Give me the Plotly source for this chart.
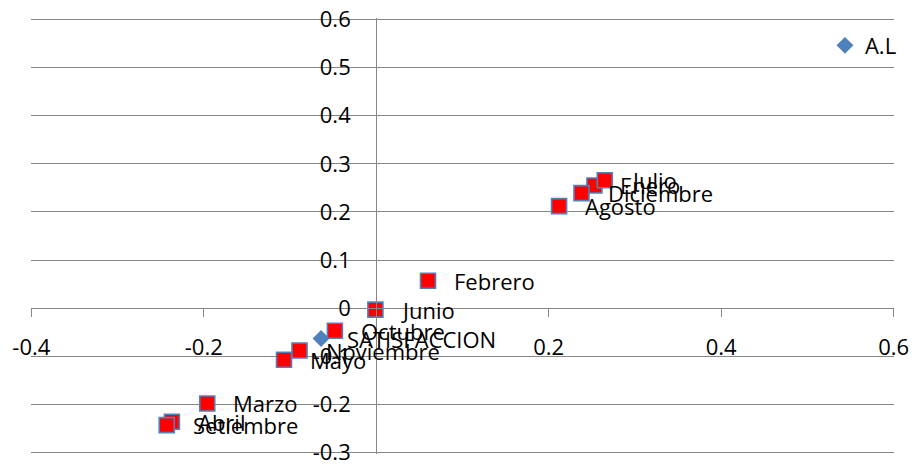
import plotly.graph_objects as go

# Data
months = ["Enero", "Febrero", "Marzo", "Abril", "Mayo", "Junio", "Julio",
          "Agosto", "Setiembre", "Octubre", "Noviembre", "Diciembre"]
month_x = [0.253, 0.060, -0.196, -0.237, -0.107, -0.001, 0.265,
           0.212, -0.243, -0.048, -0.089, 0.238]
month_y = [0.255, 0.057, -0.198, -0.236, -0.107, -0.003, 0.266,
           0.212, -0.243, -0.047, -0.088, 0.239]

sat_label = ["SATISFACCION"]
sat_x = [-0.064]
sat_y = [-0.063]

series_name = "A.L"

x_tickvals = [-0.4, -0.2, 0.2, 0.4, 0.6]
x_ticktext = ["-0.4", "-0.2", "0.2", "0.4", "0.6"]
y_tickvals = [-0.3, -0.2, -0.1, 0.0, 0.1, 0.2, 0.3, 0.4, 0.5, 0.6]
y_ticktext = ["-0.3", "-0.2", "-0.1", "0", "0.1", "0.2", "0.3", "0.4", "0.5", "0.6"]

FONT = "Open Sans"
FS = 22
GRAY = "#878787"
BLUE = "#4F81BD"

X_RANGE = [-0.4004, 0.6004]
Y_RANGE = [-0.303, 0.603]

fig = go.Figure()

fig.add_trace(go.Scatter(
    x=sat_x, y=sat_y, mode="markers", name=series_name,
    marker=dict(symbol="diamond", size=13, color=BLUE, line=dict(width=0)),
    showlegend=True,
))

fig.add_trace(go.Scatter(
    x=month_x, y=month_y, mode="markers", name="meses",
    marker=dict(symbol="square", size=15, color="#FF0000",
                line=dict(color=BLUE, width=1.6)),
    showlegend=False,
))

annotations = []
for lx, ly, lt in zip(sat_x + month_x, sat_y + month_y, sat_label + months):
    annotations.append(dict(
        x=lx, y=ly, xref="x", yref="y", text=lt, showarrow=False,
        xanchor="left", yanchor="middle", xshift=24, yshift=0,
        font=dict(family=FONT, size=FS, color="black"),
    ))

# paper fractions where the axes cross zero
x_axis_pos = (0 - Y_RANGE[0]) / (Y_RANGE[1] - Y_RANGE[0])
y_axis_pos = (0 - X_RANGE[0]) / (X_RANGE[1] - X_RANGE[0])

fig.update_layout(
    width=902, height=458,
    margin=dict(l=23, r=16, t=9.55, b=12.05, autoexpand=False),
    paper_bgcolor="white", plot_bgcolor="white",
    font=dict(family=FONT, size=FS, color="black"),
    annotations=annotations,
    legend=dict(x=0.920, y=0.985, xanchor="left", yanchor="top",
                bgcolor="rgba(0,0,0,0)", font=dict(family=FONT, size=FS)),
    xaxis=dict(
        range=X_RANGE, anchor="free", position=x_axis_pos, automargin=False,
        showgrid=False, zeroline=False,
        showline=True, linecolor=GRAY, linewidth=1.3,
        ticks="outside", ticklen=8, tickcolor=GRAY, tickwidth=1.3,
        tickvals=x_tickvals, ticktext=x_ticktext,
        ticklabelstandoff=11, ticklabeloverflow="allow",
    ),
    yaxis=dict(
        range=Y_RANGE, anchor="free", position=y_axis_pos, automargin=False,
        showgrid=True, gridcolor=GRAY, gridwidth=1.3,
        zeroline=False,
        showline=False,
        ticks="outside", ticklen=9, tickcolor=GRAY, tickwidth=1.3,
        tickvals=y_tickvals, ticktext=y_ticktext,
        ticklabelstandoff=12, ticklabeloverflow="allow",
    ),
    shapes=[],
)

# the vertical axis line spans exactly from -0.3 to 0.6 (axis crossing at x=0)
fig.update_yaxes(showline=True, linecolor=GRAY, linewidth=1.3)

fig.write_html("out.html")
